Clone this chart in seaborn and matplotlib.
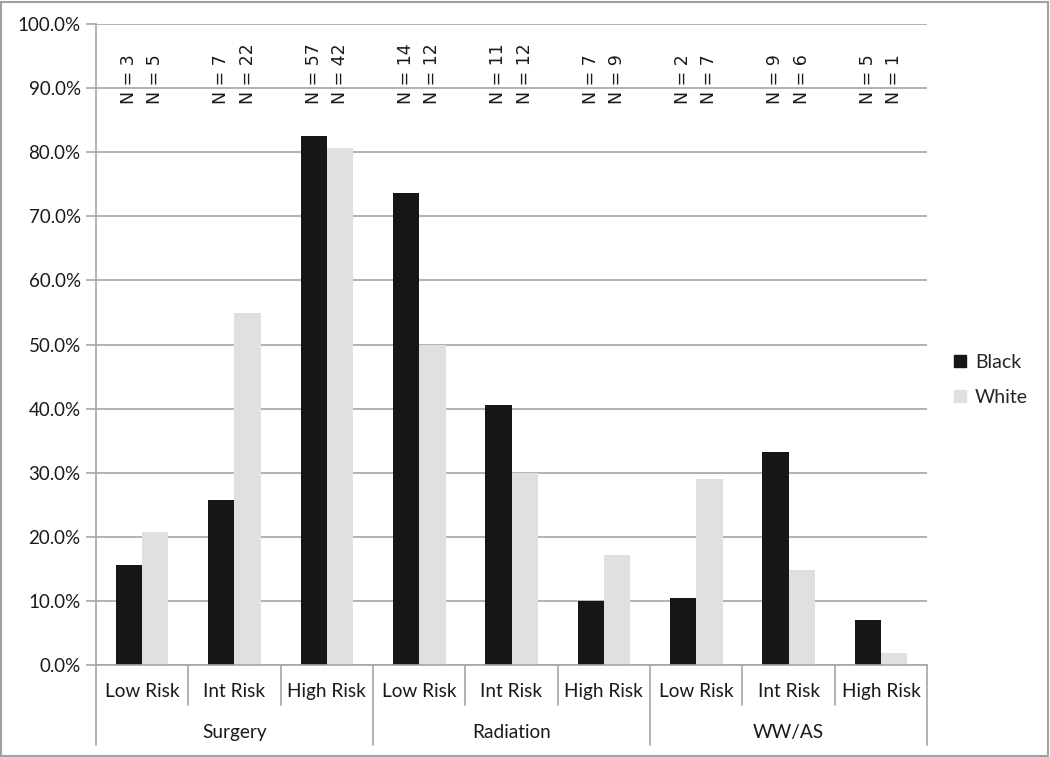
import pandas as pd
import matplotlib.pyplot as plt
import seaborn as sns
from matplotlib.patches import Rectangle
from matplotlib.lines import Line2D

# ──────────────────────────────
#  Data
# ──────────────────────────────
treatments = ["Surgery", "Radiation", "WW/AS"]
risks = ["Low Risk", "Int Risk", "High Risk"]
black_pct = [15.6, 25.7, 82.6, 73.6, 40.6, 10.0, 10.4, 33.2, 7.1]
white_pct = [20.7, 54.9, 80.7, 50.0, 29.9, 17.2, 29.0, 14.9, 1.8]
black_n = [3, 7, 57, 14, 11, 7, 2, 9, 5]
white_n = [5, 22, 42, 12, 12, 9, 7, 6, 1]

slots = [f"{t}|{r}" for t in treatments for r in risks]
df = pd.DataFrame({
    "slot": slots * 2,
    "pct": black_pct + white_pct,
    "race": ["Black"] * len(slots) + ["White"] * len(slots),
    "n": black_n + white_n,
})

BLACK = "#161616"
WHITE = "#e0e0e0"
GRID = "#a6a6a6"
TXT = "#1a1a1a"

sns.set_style("white")
plt.rcParams["font.family"] = ["Lato", "DejaVu Sans"]

fig = plt.figure(figsize=(10.5, 7.57), dpi=100)
ax = fig.add_axes([0.0914, 0.1215, 0.7916, 0.8468])

sns.barplot(data=df, x="slot", y="pct", hue="race", order=slots,
            palette={"Black": BLACK, "White": WHITE}, width=0.57, gap=0,
            linewidth=0, saturation=1, legend=False, ax=ax)

ax.set_ylim(0, 100)
ax.set_xlim(-0.5, len(slots) - 0.5)
ax.set_yticks(range(0, 101, 10))
ax.set_yticklabels([f"{v:.1f}%" for v in range(0, 101, 10)], fontsize=13.5, color=TXT)
ax.yaxis.grid(True, color=GRID, lw=1.2)
ax.set_axisbelow(True)
ax.tick_params(axis="y", length=7, width=1.2, color=GRID, pad=4, left=True)
ax.set_xticks([])
ax.set_xlabel("")
ax.set_ylabel("")
for s in ["top", "right"]:
    ax.spines[s].set_visible(False)
for s in ["left", "bottom"]:
    ax.spines[s].set_color(GRID)
    ax.spines[s].set_linewidth(1.2)

# N labels above each bar
off = 0.57 / 4
for i in range(len(slots)):
    for dx, n in ((-off, black_n[i]), (off, white_n[i])):
        ax.text(i + dx, 87.5, f"N = {n}", rotation=90, ha="center", va="bottom",
                fontsize=12.5, family=["DejaVu Sans"], color=TXT)

# two-level category axis
xt = ax.get_xaxis_transform()
for i in range(len(slots) + 1):
    bottom = -0.1248 if i % 3 == 0 else -0.0624
    ax.plot([i - 0.5, i - 0.5], [0, bottom], transform=xt, color=GRID, lw=1.2, clip_on=False)
for i, s in enumerate(slots):
    ax.text(i, -0.042, s.split("|")[1], transform=xt, ha="center", va="center",
            fontsize=13.7, color=TXT)
for g, t in enumerate(treatments):
    ax.text(3 * g + 1, -0.105, t, transform=xt, ha="center", va="center",
            fontsize=13.7, color=TXT)

# legend
handles = [Line2D([], [], marker="s", ls="", markersize=9, color=c) for c in (BLACK, WHITE)]
fig.legend(handles, ["Black", "White"], loc="center left", bbox_to_anchor=(0.888, 0.498),
           frameon=False, fontsize=14, handletextpad=0.3, labelspacing=0.95,
           handlelength=1.0)

# outer border
fig.patches.append(Rectangle((0.001, 0.001), 0.997, 0.997, transform=fig.transFigure,
                             fill=False, edgecolor="#a0a0a0", lw=1.5))

fig.savefig("out.png", dpi=100)
